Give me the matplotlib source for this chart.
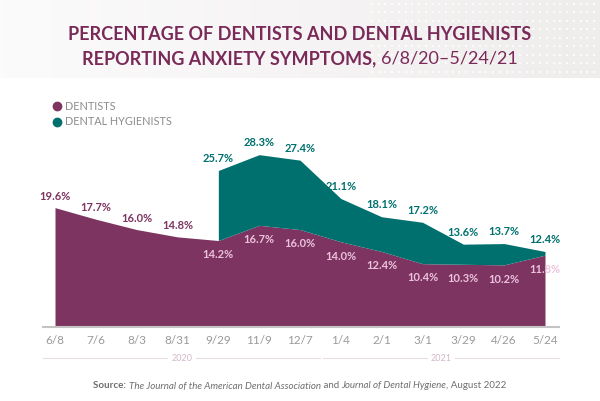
import numpy as np
import matplotlib.pyplot as plt
from matplotlib.lines import Line2D
from matplotlib.colors import LinearSegmentedColormap

dates = ['6/8', '7/6', '8/3', '8/31', '9/29', '11/9', '12/7',
         '1/4', '2/1', '3/1', '3/29', '4/26', '5/24']
dentists = [19.6, 17.7, 16.0, 14.8, 14.2, 16.7, 16.0, 14.0, 12.4, 10.4, 10.3, 10.2, 11.8]
hyg_dates = ['9/29', '11/9', '12/7', '1/4', '2/1', '3/1', '3/29', '4/26', '5/24']
hygienists = [25.7, 28.3, 27.4, 21.1, 18.1, 17.2, 13.6, 13.7, 12.4]
years = ['2020', '2021']

MAROON = '#7d3460'
TEAL = '#00706e'
LIGHT = '#ebc2dc'
GREY = '#9a9a9a'

plt.rcParams['font.family'] = ['Lato', 'DejaVu Sans']

W, H = 600, 401
fig = plt.figure(figsize=(W / 100, H / 100), dpi=100)

# top banner with a soft gradient and a dot pattern on the right
ban = fig.add_axes([0, 1 - 78 / H, 1, 78 / H], zorder=0)
grad = np.linspace(0, 1, 300)[None, :]
ban.imshow(grad, aspect='auto', extent=[0, 1, 0, 1],
           cmap=LinearSegmentedColormap.from_list('b', ['#fcfbfb', '#f6f4f4', '#efecec']))
gx, gy = np.meshgrid(np.linspace(0.62, 0.99, 34), np.linspace(0.08, 0.95, 9))
ban.scatter(gx.ravel(), gy.ravel(), s=4, marker='s', c='white', alpha=0.8, linewidths=0)
ban.set_xlim(0, 1)
ban.set_ylim(0, 1)
ban.axis('off')

x = np.arange(len(dates))
hx = np.array([dates.index(d) for d in hyg_dates])
dent_arr = np.array(dentists)

ax = fig.add_axes([43 / W, 1 - 327 / H, 516 / W, 182.7 / H], zorder=2)
ax.fill_between(x, 0, dentists, color=MAROON, linewidth=0, zorder=2)
ax.fill_between(hx, dent_arr[hx], hygienists, color=TEAL, linewidth=0, zorder=2)
ax.set_xlim(-0.294, 12.343)
ax.set_ylim(0, 30)
for s in ['top', 'right', 'left']:
    ax.spines[s].set_visible(False)
ax.spines['bottom'].set_color('#c4c4c4')
ax.spines['bottom'].set_linewidth(1.5)
ax.spines['bottom'].set_zorder(3)
ax.set_yticks([])
ax.set_xticks(x)
ax.set_xticklabels(dates, color=GREY, fontsize=8.5)
ax.tick_params(axis='x', length=0, pad=6)
ax.patch.set_alpha(0)

# value labels
for i, v in enumerate(dentists):
    if i < 4:
        ax.annotate(f'{v:.1f}%', (i, v), xytext=(0, 8.3), textcoords='offset points',
                    ha='center', va='center', color=MAROON, fontsize=8, fontweight='bold', zorder=5)
    else:
        ax.annotate(f'{v:.1f}%', (i, v), xytext=(0, -10.3), textcoords='offset points',
                    ha='center', va='center', color=LIGHT, fontsize=8, fontweight='bold', zorder=5)
for i, v in zip(hx, hygienists):
    ax.annotate(f'{v:.1f}%', (i, v), xytext=(0, 8.6), textcoords='offset points',
                ha='center', va='center', color=TEAL, fontsize=8, fontweight='bold', zorder=5)

# year groups below the ticks
tr = ax.get_xaxis_transform()
yl = -0.17
edges = [ax.get_xlim()[0], 6.5, 6.56, ax.get_xlim()[1]]
for k, yr in enumerate(years):
    x0, x1 = edges[2 * k], edges[2 * k + 1]
    xm = (x0 + x1) / 2
    ax.plot([x0, xm - 0.35], [yl, yl], transform=tr, color='#e6dde3', lw=0.8, clip_on=False)
    ax.plot([xm + 0.35, x1], [yl, yl], transform=tr, color='#e6dde3', lw=0.8, clip_on=False)
    ax.text(xm, yl, yr, transform=tr, ha='center', va='center', fontsize=6.5,
            color='#d2b8ca')

# legend
for yy, lab, col in [(106, 'DENTISTS', MAROON), (122, 'DENTAL HYGIENISTS', TEAL)]:
    fig.add_artist(Line2D([57 / W], [1 - yy / H], marker='o', markersize=6,
                          color=col, linestyle='none'))
    fig.text(65 / W, 1 - yy / H, lab, ha='left', va='center', fontsize=7.8,
             color='#8c8c8c')


def text_row(y, pieces, cx=0.5):
    """draw text pieces one after another, centred as a row at cx"""
    fig.canvas.draw()
    r = fig.canvas.get_renderer()
    arts = []
    for s, kw in pieces:
        t = fig.text(0, y, s, ha='left', va='center', **kw)
        arts.append(t)
    widths = [t.get_window_extent(r).width / W for t in arts]
    xx = cx - sum(widths) / 2
    for t, w in zip(arts, widths):
        t.set_x(xx)
        xx += w


title_kw = dict(fontsize=13, color='#7a2a58', fontweight='bold')
text_row(1 - 35 / H, [('PERCENTAGE OF DENTISTS AND DENTAL HYGIENISTS', title_kw)])
text_row(1 - 59 / H, [('REPORTING ANXIETY SYMPTOMS, ', title_kw),
                      ('6/8/20–5/24/21', dict(fontsize=13, color='#7a2a58'))])

src = dict(fontsize=7.0, color='#6e6e6e')
src_i = dict(fontsize=7.0, color='#6e6e6e', style='italic')
text_row(1 - 386 / H, [('Source: ', dict(src, fontweight='bold')),
                       ('The Journal of the American Dental Association', src_i),
                       (' and ', src),
                       ('Journal of Dental Hygiene', src_i),
                       (', August 2022', src)])

fig.savefig('out.png', dpi=100)
